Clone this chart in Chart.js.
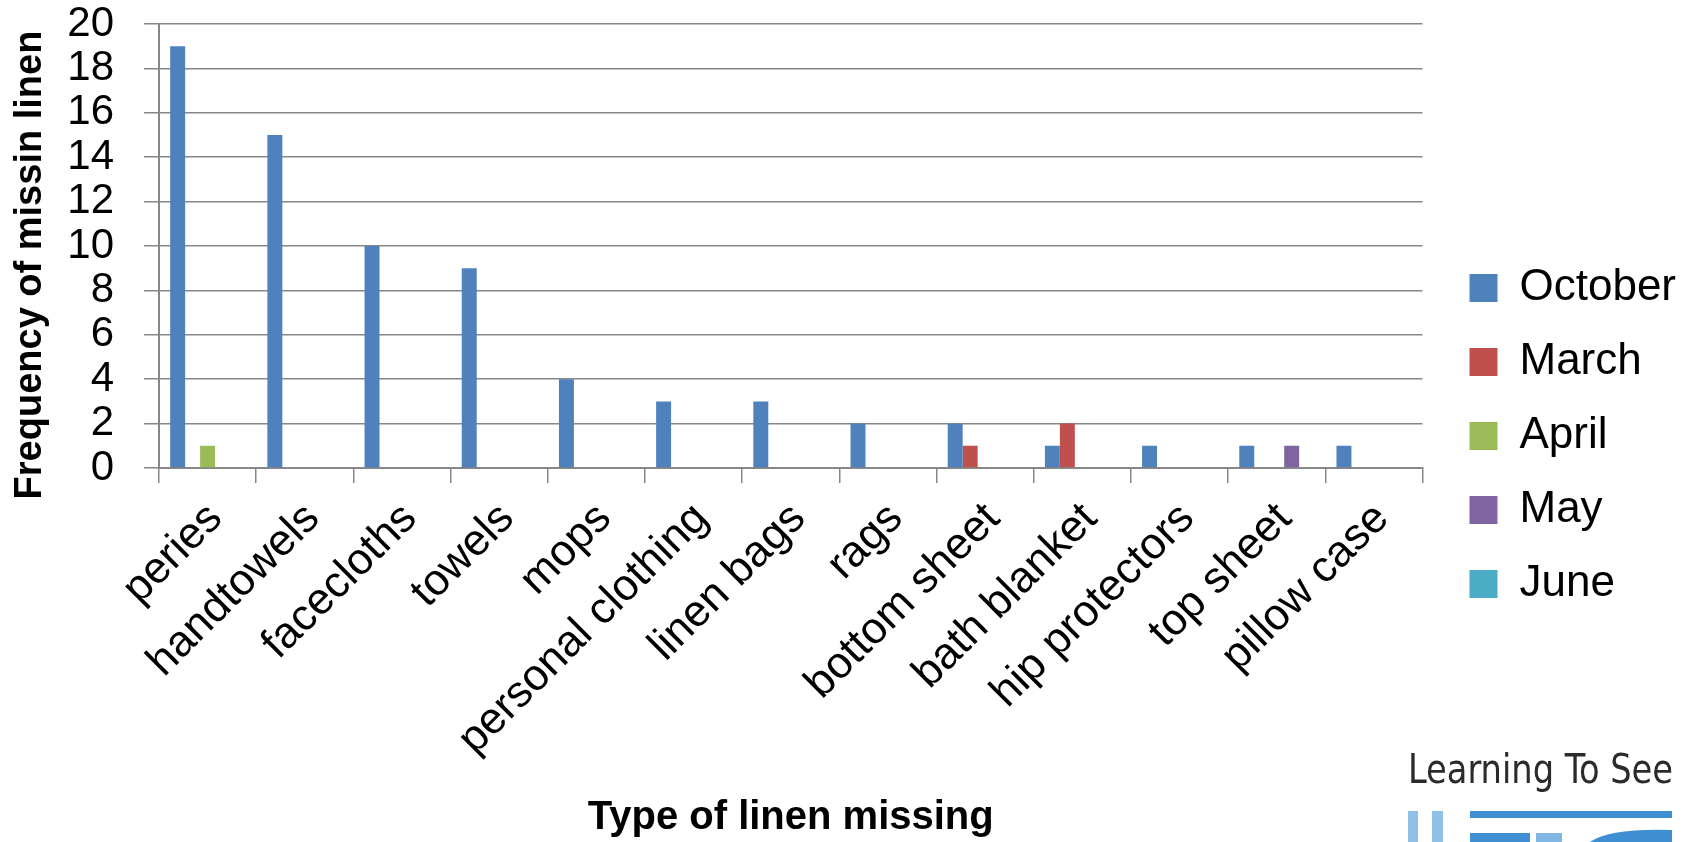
<!DOCTYPE html>
<html>
<head>
<meta charset="utf-8">
<title>Type of linen missing</title>
<script src="https://cdn.jsdelivr.net/npm/chart.js@4"></script>
<style>
  html, body { margin: 0; padding: 0; background: #fff; }
  #wrap { width: 1688px; height: 842px; position: relative; }
</style>
</head>
<body>
<div id="wrap"><canvas id="linenChart"></canvas></div>
<script>
// linen items and monthly counts
const categories = ['peries', 'handtowels', 'facecloths', 'towels', 'mops', 'personal clothing',
  'linen bags', 'rags', 'bottom sheet', 'bath blanket', 'hip protectors', 'top sheet', 'pillow case'];
const october = [19, 15, 10, 9, 4, 3, 3, 2, 2, 1, 1, 1, 1];
const march   = [null, null, null, null, null, null, null, null, 1, 2, null, null, null];
const april   = [1, null, null, null, null, null, null, null, null, null, null, null, null];
const may     = [null, null, null, null, null, null, null, null, null, null, null, 1, null];
const june    = [null, null, null, null, null, null, null, null, null, null, null, null, null];
const yTicks = [0, 2, 4, 6, 8, 10, 12, 14, 16, 18, 20];
const yTitle = 'Frequency of missin linen';

const FONT = "'Liberation Sans', Arial, sans-serif";
const axisGrey = '#878787';

// vertical axis title, sits a bit below the middle of the plot
const yTitlePlugin = {
  id: 'yTitle',
  afterDraw(chart) {
    const ctx = chart.ctx;
    const area = chart.chartArea;
    ctx.save();
    ctx.translate(31, (area.top + area.bottom) / 2 + 19);
    ctx.rotate(-Math.PI / 2);
    ctx.font = 'bold 38px ' + FONT;
    ctx.fillStyle = '#000';
    ctx.textAlign = 'center';
    ctx.textBaseline = 'middle';
    ctx.fillText(yTitle, 0, 0);
    ctx.restore();
  }
};

// little logo in the corner
const logoPlugin = {
  id: 'logo',
  afterDraw(chart) {
    const ctx = chart.ctx;
    ctx.save();
    ctx.fillStyle = '#2b2b2b';
    ctx.font = "41px 'Liberation Sans Narrow', 'DejaVu Sans Condensed', sans-serif";
    ctx.textBaseline = 'alphabetic';
    ctx.textAlign = 'left';
    const txt = 'Learning To See';
    const w = ctx.measureText(txt).width;
    ctx.translate(1408, 783);
    ctx.scale(265 / w, 1);
    ctx.fillText(txt, 0, 0);
    ctx.restore();

    ctx.save();
    ctx.fillStyle = '#8fc0e8';
    ctx.fillRect(1408, 811, 10, 31);
    ctx.fillRect(1432, 811, 11, 31);
    ctx.fillStyle = '#3f8fd2';
    ctx.fillRect(1470, 811, 202, 7);
    ctx.fillRect(1470, 833, 60, 9);
    ctx.fillStyle = '#7fb6e4';
    ctx.fillRect(1536, 833, 26, 9);
    ctx.fillStyle = '#3f8fd2';
    ctx.beginPath();
    ctx.moveTo(1590, 842);
    ctx.quadraticCurveTo(1610, 828, 1672, 830);
    ctx.lineTo(1672, 842);
    ctx.closePath();
    ctx.fill();
    ctx.restore();
  }
};

const data = {
  labels: categories,
  datasets: [
    { label: 'October', data: october, backgroundColor: '#4F81BD' },
    { label: 'March', data: march, backgroundColor: '#C0504D' },
    { label: 'April', data: april, backgroundColor: '#9BBB59' },
    { label: 'May', data: may, backgroundColor: '#8064A2' },
    { label: 'June', data: june, backgroundColor: '#4BACC6' }
  ]
};

const config = {
  type: 'bar',
  data,
  options: {
    responsive: false,
    animation: false,
    layout: { padding: { top: 0, right: 2, bottom: 0, left: 0 } },
    datasets: {
      bar: { categoryPercentage: 0.77, barPercentage: 1.0, borderWidth: 0 }
    },
    plugins: {
      legend: {
        position: 'right',
        title: { display: true, text: '', padding: { top: 29, bottom: 0 }, font: { size: 1 } },
        labels: {
          boxWidth: 28,
          boxHeight: 28,
          padding: 30,
          color: '#000',
          font: { family: FONT, size: 44 }
        }
      },
      tooltip: { enabled: false }
    },
    scales: {
      x: {
        grid: {
          drawOnChartArea: false,
          drawTicks: true,
          tickLength: 15,
          color: axisGrey,
          lineWidth: 1.5
        },
        border: { color: axisGrey, width: 2 },
        ticks: {
          color: '#000',
          maxRotation: 45,
          minRotation: 45,
          autoSkip: false,
          padding: 10,
          labelOffset: 8,
          font: { family: FONT, size: 44 }
        },
        title: {
          display: true,
          text: 'Type of linen missing',
          color: '#000',
          padding: { top: 0, bottom: 0 },
          font: { family: FONT, size: 40, weight: 'bold' }
        },
        afterFit(axis) { axis.height = 374; }
      },
      y: {
        min: 0,
        max: 20,
        afterBuildTicks(axis) { axis.ticks = yTicks.map(v => ({ value: v })); },
        grid: {
          color: axisGrey,
          lineWidth: 1.5,
          drawTicks: true,
          tickLength: 15
        },
        border: { color: axisGrey, width: 2 },
        ticks: {
          color: '#000',
          padding: 30,
          autoSkip: false,
          font: { family: FONT, size: 42 }
        },
        afterFit(axis) {
          axis.width = 159;
          axis.paddingTop = 24;
          axis.paddingBottom = 24;
        }
      },
      // empty strip between the plot and the legend
      gap: {
        type: 'linear',
        position: 'right',
        display: true,
        grid: { display: false },
        border: { display: false },
        ticks: { display: false },
        afterFit(axis) { axis.width = 17; }
      }
    }
  },
  plugins: [yTitlePlugin, logoPlugin]
};

const canvas = document.getElementById('linenChart');
canvas.width = 1688;
canvas.height = 842;
const linenChart = new Chart(canvas, config);
</script>
</body>
</html>
